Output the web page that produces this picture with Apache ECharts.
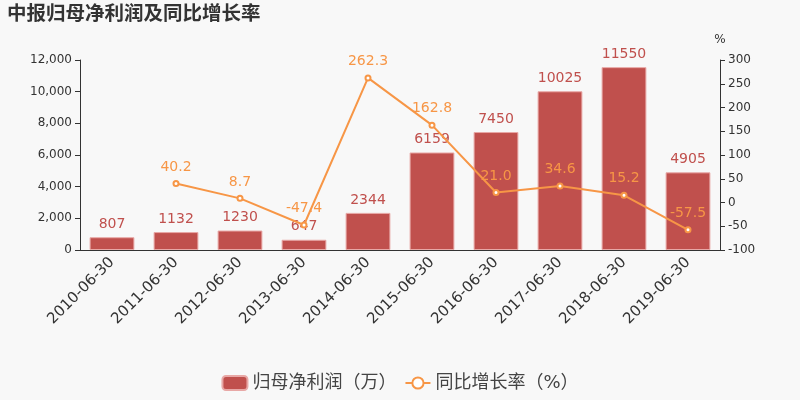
<!DOCTYPE html>
<html>
<head>
<meta charset="utf-8">
<script src="https://cdn.jsdelivr.net/npm/echarts@6/dist/echarts.min.js"></script>
<style>
html,body{margin:0;padding:0;background:#f8f8f8;}
#main{width:800px;height:400px;}
</style>
</head>
<body>
<div id="main"></div>
<script>
var categories = ['2010-06-30','2011-06-30','2012-06-30','2013-06-30','2014-06-30','2015-06-30','2016-06-30','2017-06-30','2018-06-30','2019-06-30'];
var profitValues = [807, 1132, 1230, 647, 2344, 6159, 7450, 10025, 11550, 4905];
var growthValues = ['-', 40.2, 8.7, -47.4, 262.3, 162.8, 21.0, 34.6, 15.2, -57.5];
var leftTicks = {min: 0, max: 12000, interval: 2000};
var rightTicks = {min: -100, max: 300, interval: 50};

var chart = echarts.init(document.getElementById('main'));
var font = 'DejaVu Sans, "Noto Sans CJK SC", sans-serif';
chart.setOption({
  backgroundColor: '#f8f8f8',
  textStyle: {fontFamily: font},
  title: {
    text: '中报归母净利润及同比增长率',
    left: 2, top: 0,
    textStyle: {fontSize: 19.5, fontWeight: 'bold', color: '#333', fontFamily: font}
  },
  legend: {
    bottom: 3,
    left: 'center',
    itemWidth: 25, itemHeight: 14,
    textStyle: {fontSize: 18, color: '#444', fontFamily: font},
    data: ['归母净利润（万）', '同比增长率（%）']
  },
  grid: {left: 80, right: 80, top: 60, bottom: 150},
  xAxis: {
    type: 'category',
    data: categories,
    axisLine: {lineStyle: {color: '#333'}},
    axisTick: {lineStyle: {color: '#333'}},
    axisLabel: {rotate: 45, fontSize: 15, color: '#333', interval: 0, margin: 10, fontFamily: font}
  },
  yAxis: [{
    type: 'value',
    min: leftTicks.min, max: leftTicks.max, interval: leftTicks.interval,
    axisLine: {show: true, lineStyle: {color: '#333'}},
    axisTick: {show: true, lineStyle: {color: '#333'}},
    splitLine: {show: false},
    axisLabel: {fontSize: 12, color: '#333', fontFamily: font,
      formatter: function (v) { return v.toLocaleString('en-US'); }}
  }, {
    type: 'value',
    name: '%',
    nameGap: 14,
    nameTextStyle: {fontSize: 12, color: '#333', align: 'center', fontFamily: font},
    min: rightTicks.min, max: rightTicks.max, interval: rightTicks.interval,
    axisLine: {show: true, lineStyle: {color: '#333'}},
    axisTick: {show: true, lineStyle: {color: '#333'}},
    splitLine: {show: false},
    axisLabel: {fontSize: 12, color: '#333', fontFamily: font}
  }],
  series: [{
    name: '归母净利润（万）',
    type: 'bar',
    data: profitValues,
    barWidth: '70%',
    itemStyle: {color: '#c0504d', borderColor: '#e8a8a6', borderWidth: 1},
    label: {show: true, position: 'top', color: '#c0504d', fontSize: 14, distance: 6, fontFamily: font}
  }, {
    name: '同比增长率（%）',
    type: 'line',
    yAxisIndex: 1,
    data: growthValues,
    symbol: 'emptyCircle',
    symbolSize: 5,
    lineStyle: {color: '#f79646', width: 2},
    itemStyle: {color: '#f79646'},
    label: {show: true, position: 'top', color: '#f79646', fontSize: 14, distance: 6, fontFamily: font,
      formatter: function (p) { return Number(p.value).toFixed(1); }}
  }]
});
</script>
</body>
</html>
